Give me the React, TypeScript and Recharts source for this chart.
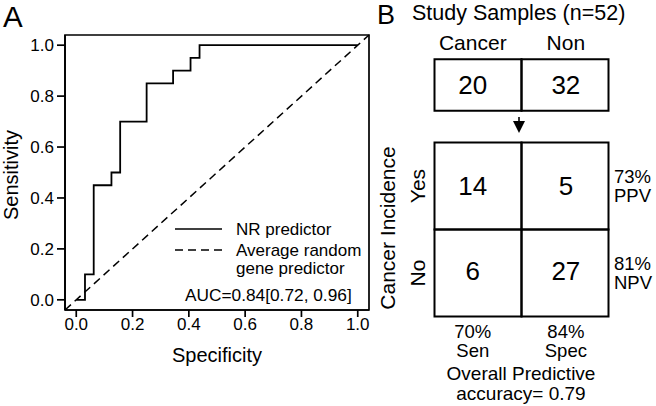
import React from 'react';
import {
  LineChart, Line, XAxis, YAxis, ReferenceLine, ReferenceArea, Legend,
  ScatterChart, Scatter,
} from 'recharts';

const FONT = '"Liberation Sans", Arial, Helvetica, sans-serif';

// ---------- Panel A data ----------
const rocFpr = [0, 0.031, 0.062, 0.125, 0.156, 0.25, 0.344, 0.406, 0.438, 1.0];
const rocTpr = [0, 0.1, 0.45, 0.5, 0.7, 0.85, 0.9, 0.95, 1.0, 1.0];
const randomEnds = [-0.04, 1.04];
const axisTicks = [0, 0.2, 0.4, 0.6, 0.8, 1.0];
const seriesNames = ['NR predictor', 'Average random\ngene predictor'];
const aucText = 'AUC=0.84[0.72, 0.96]';

// ---------- Panel B data ----------
const studyN = 52;
const classLabels = ['Cancer', 'Non'];
const classCounts = [20, 32];
const incidenceLabels = ['Yes', 'No'];
const confusionYes = [14, 5];
const confusionNo = [6, 27];
const rowPercents = [73, 81];
const rowMetrics = ['PPV', 'NPV'];
const colPercents = [70, 84];
const colMetrics = ['Sen', 'Spec'];
const overallAccuracy = 0.79;

const rocData = rocFpr.map((x, i) => ({ x, y: rocTpr[i] }));
const DOM: [number, number] = [-0.04, 1.04];

const tickStyle = { fontSize: 17, fill: '#000', fontFamily: FONT };
const lineStyle = { stroke: '#000', strokeWidth: 1.7 };

const XTitle = (props: any) => {
  const vb = props.viewBox || { x: 65, y: 310, width: 305, height: 40 };
  const cx = vb.x + vb.width / 2;
  return (
    <text x={cx} y={355} textAnchor="middle" dominantBaseline="central" fontSize={20} fontFamily={FONT} fill="#000">
      Specificity
    </text>
  );
};

const YTitle = (props: any) => {
  const vb = props.viewBox || { x: 5, y: 35, width: 60, height: 275 };
  const cx = 10.5;
  const cy = vb.y + vb.height / 2 + 2.5;
  return (
    <text x={cx} y={cy} transform={`rotate(-90 ${cx} ${cy})`} textAnchor="middle" dominantBaseline="central" fontSize={20} fontFamily={FONT} fill="#000">
      Sensitivity
    </text>
  );
};

const LegendBox = () => {
  const items = seriesNames.map((n, i) => ({ lines: n.split('\n'), dashed: i === 1 }));
  const rowY = [14, 35];
  return (
    <svg width={190} height={95} style={{ display: 'block', overflow: 'visible' }}>
      {items.map((it, i) => (
        <g key={i}>
          <line x1={5} x2={52} y1={rowY[i]} y2={rowY[i]} stroke="#000" strokeWidth={it.dashed ? 1.5 : 1.7} strokeDasharray={it.dashed ? '8 5' : undefined} />
          {it.lines.map((t, j) => (
            <text key={j} x={66} y={rowY[i] + j * 18.5} dominantBaseline="central" fontSize={17} fontFamily={FONT} fill="#000">{t}</text>
          ))}
        </g>
      ))}
      <text x={15} y={80} dominantBaseline="central" fontSize={17.3} fontFamily={FONT} fill="#000">{aucText}</text>
    </svg>
  );
};

// ---------- Panel B layout ----------
const U = 87;
const COL0 = 434.5;
const ROW0 = 316.5;
const bx = (px: number) => (px - COL0) / U;
const by = (py: number) => (ROW0 - py) / U;
const STUDY_Y: [number, number] = [by(110.7), by(59.3)];
const colTextX = [0.44, 1.51];
const rowCenterY = [1.5, 0.5];
const confusion = [confusionYes, confusionNo];

type Ann = { x: number; y: number; lines?: string[]; size?: number; anchor?: string; rotate?: boolean; gap?: number; kind?: string };

const annotations: Ann[] = [
  { x: bx(412), y: by(13), lines: [`Study Samples (n=${studyN})`], size: 21.5, anchor: 'start' },
  ...classLabels.map((t, i) => ({ x: colTextX[i], y: by(42), lines: [t], size: 21 })),
  ...classCounts.map((c, i) => ({ x: colTextX[i], y: (STUDY_Y[0] + STUDY_Y[1]) / 2, lines: [String(c)], size: 26 })),
  ...confusion.flatMap((row, r) => row.map((v, c) => ({ x: colTextX[c], y: rowCenterY[r] + (r === 1 ? 0.02 : 0), lines: [String(v)], size: 26 }))),
  ...incidenceLabels.map((t, r) => ({ x: bx(417), y: rowCenterY[r], lines: [t], size: 21, rotate: true })),
  { x: bx(387), y: by(228), lines: ['Cancer Incidence'], size: 21, rotate: true },
  ...rowPercents.map((p, r) => ({ x: bx(614), y: rowCenterY[r], lines: [`${p}%`, rowMetrics[r]], size: 18.5, anchor: 'start', gap: 19.5 })),
  ...colPercents.map((p, c) => ({ x: colTextX[c], y: by(341), lines: [`${p}%`, colMetrics[c]], size: 18.5, gap: 19 })),
  { x: bx(521), y: by(383.5), lines: ['Overall Predictive', `accuracy= ${overallAccuracy}`], size: 19, gap: 20 },
  { x: bx(519), y: by(117), kind: 'arrow' },
];

const AnnShape = (props: any) => {
  const { cx, cy, payload } = props;
  if (cx == null || cy == null || !payload) return null;
  if (payload.kind === 'arrow') {
    return (
      <g>
        <line x1={cx} x2={cx} y1={cy} y2={cy + 5} stroke="#000" strokeWidth={1.6} />
        <polygon points={`${cx - 6},${cy + 4} ${cx + 6},${cy + 4} ${cx},${cy + 16}`} fill="#000" />
      </g>
    );
  }
  const lines: string[] = payload.lines || [];
  const gap = payload.gap || 20;
  const n = lines.length;
  return (
    <g transform={payload.rotate ? `rotate(-90 ${cx} ${cy})` : undefined}>
      {lines.map((t, i) => (
        <text key={i} x={cx} y={cy + (i - (n - 1) / 2) * gap} textAnchor={payload.anchor || 'middle'} dominantBaseline="central" fontSize={payload.size} fontFamily={FONT} fill="#000">
          {t}
        </text>
      ))}
    </g>
  );
};

export default function App() {
  return (
    <div style={{ position: 'absolute', left: 0, top: 0, width: 656, height: 406, background: '#fff', fontFamily: FONT }}>
      <div style={{ position: 'absolute', left: 0, top: 0 }}>
        <LineChart width={380} height={406} data={rocData} margin={{ top: 35, right: 11, bottom: 56, left: 5 }}>
          <XAxis
            type="number" dataKey="x" domain={DOM} ticks={axisTicks} allowDataOverflow
            tickFormatter={(v: number) => v.toFixed(1)} height={40} tickSize={7} tickMargin={1}
            tick={tickStyle} axisLine={lineStyle} tickLine={lineStyle} label={{ content: XTitle }}
          />
          <YAxis
            type="number" domain={DOM} ticks={axisTicks} allowDataOverflow
            tickFormatter={(v: number) => v.toFixed(1)} width={60} tickSize={8} tickMargin={3}
            tick={tickStyle} axisLine={lineStyle} tickLine={lineStyle} label={{ content: YTitle }}
          />
          <ReferenceArea x1={DOM[0]} x2={DOM[1]} y1={DOM[0]} y2={DOM[1]} fill="none" fillOpacity={0} stroke="#000" strokeWidth={1.7} ifOverflow="visible" />
          <ReferenceLine
            segment={[{ x: randomEnds[0], y: randomEnds[0] }, { x: randomEnds[1], y: randomEnds[1] }]}
            stroke="#000" strokeWidth={1.5} strokeDasharray="8 5" ifOverflow="visible"
          />
          <Line dataKey="y" type="stepAfter" stroke="#000" strokeWidth={1.8} dot={false} isAnimationActive={false} name={seriesNames[0]} />
          <Legend
            layout="vertical" align="center" verticalAlign="middle"
            wrapperStyle={{ position: 'absolute', left: 170, top: 215, width: 190, height: 95 }}
            content={() => <LegendBox />}
          />
        </LineChart>
      </div>
      <div style={{ position: 'absolute', left: 360, top: 0 }}>
        <ScatterChart width={296} height={406} margin={{ top: 0, right: 0, bottom: 0, left: 0 }}>
          <XAxis type="number" dataKey="x" domain={[bx(360), bx(656)]} hide allowDataOverflow />
          <YAxis type="number" dataKey="y" domain={[by(406), by(0)]} hide allowDataOverflow />
          {classCounts.map((_, c) => (
            <ReferenceArea key={`s${c}`} x1={c} x2={c + 1} y1={STUDY_Y[0]} y2={STUDY_Y[1]} fill="none" fillOpacity={0} stroke="#000" strokeWidth={2} ifOverflow="visible" />
          ))}
          {confusion.map((row, r) => row.map((_, c) => (
            <ReferenceArea key={`m${r}${c}`} x1={c} x2={c + 1} y1={1 - r} y2={2 - r} fill="none" fillOpacity={0} stroke="#000" strokeWidth={2} ifOverflow="visible" />
          )))}
          <Scatter data={annotations} shape={AnnShape} isAnimationActive={false} />
        </ScatterChart>
      </div>
      <svg width={656} height={406} style={{ position: 'absolute', left: 0, top: 0, pointerEvents: 'none' }}>
        <text x={3} y={27} fontSize={29.5} fontFamily={FONT} fill="#000">A</text>
        <text x={377} y={23.5} fontSize={27} fontFamily={FONT} fill="#000">B</text>
      </svg>
    </div>
  );
}
